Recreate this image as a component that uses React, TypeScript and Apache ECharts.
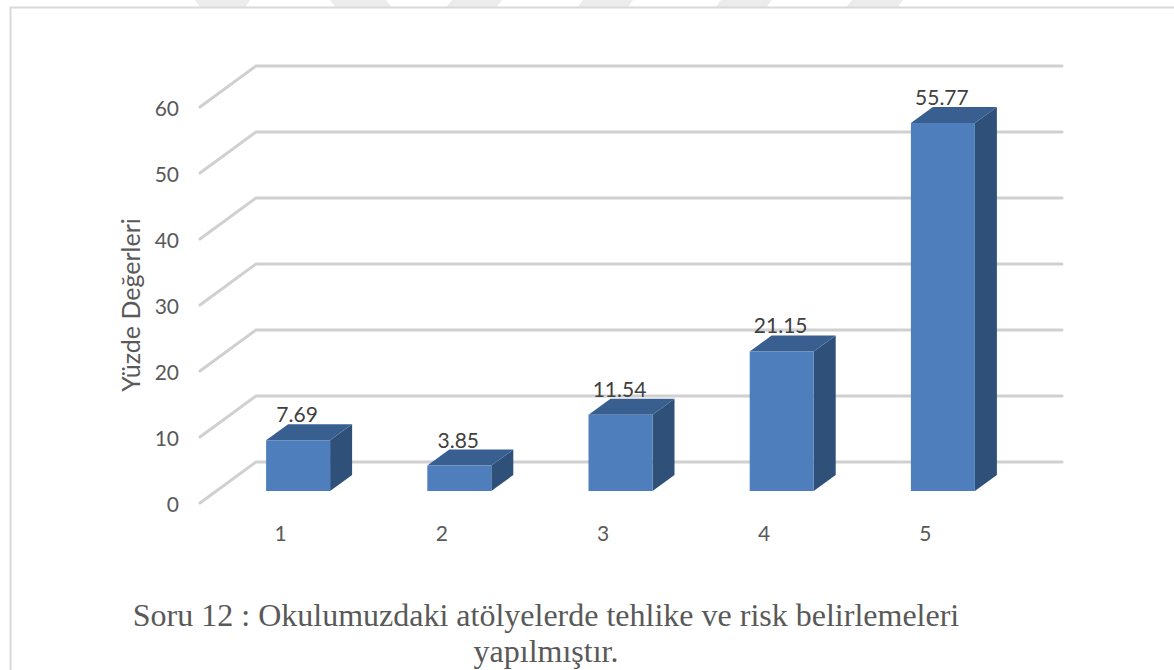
import React, { useEffect, useRef } from "react";
import * as echarts from "echarts";

const categories = ["1", "2", "3", "4", "5"];
const values = [7.69, 3.85, 11.54, 21.15, 55.77];
const gridTicks = [0, 10, 20, 30, 40, 50, 60];
const titleLines = ["Soru 12 : Okulumuzdaki atölyelerde tehlike ve risk belirlemeleri", "yapılmıştır."];
const yAxisName = "Yüzde Değerleri";

const SANS = "Lato";
const WALL_DX = 56;
const WALL_DY = 41;
const BAR_DX = 17.5;
const BAR_DY = 12;
const BAR_DEPTH_X = 22;
const BAR_DEPTH_Y = 16;
const BAR_W = 64;

const watermark = [
  [[195, 0], [250, 0], [245, 8], [201, 8]],
  [[330, 0], [386, 0], [392, 8], [336, 8]],
  [[452, 0], [502, 0], [496, 8], [446, 8]],
  [[583, 0], [633, 0], [627, 8], [577, 8]],
  [[721, 0], [772, 0], [766, 8], [715, 8]],
  [[852, 0], [903, 0], [897, 8], [846, 8]],
];

export default function App() {
  const ref = useRef<HTMLDivElement>(null);
  useEffect(() => {
    const chart = echarts.init(ref.current!, undefined, { renderer: "svg" });
    chart.setOption({
      animation: false,
      backgroundColor: "#ffffff",
      title: {
        text: titleLines.join("\n"),
        left: 546,
        top: 597,
        padding: 0,
        textAlign: "center",
        textStyle: {
          fontFamily: "'Liberation Serif'",
          fontSize: 32,
          fontWeight: "normal",
          lineHeight: 36,
          color: "#595959",
        },
      },
      grid: { left: 200, top: 107, width: 806, height: 396 },
      xAxis: {
        type: "category",
        data: categories,
        axisLine: { show: false },
        axisTick: { show: false },
        axisLabel: { color: "#595959", fontFamily: SANS, fontSize: 21, margin: 19 },
      },
      yAxis: {
        type: "value",
        min: 0,
        max: 60,
        interval: 10,
        name: yAxisName,
        nameLocation: "middle",
        nameRotate: 90,
        nameGap: 58,
        nameTextStyle: { color: "#595959", fontFamily: SANS, fontSize: 25 },
        axisLine: { show: false },
        axisTick: { show: false },
        splitLine: { show: false },
        axisLabel: { color: "#595959", fontFamily: SANS, fontSize: 21, margin: 21 },
      },
      graphic: watermark.map((points) => ({
        type: "polygon",
        silent: true,
        z: -1,
        shape: { points },
        style: { fill: "#ececec" },
      })).concat([
        {
          type: "polyline",
          silent: true,
          z: 0,
          shape: { points: [[10.5, 670], [10.5, 7.5], [1174, 7.5]] },
          style: { stroke: "#d9d9d9", lineWidth: 2, fill: "none" },
        } as any,
      ]),
      series: [
        {
          type: "custom",
          silent: true,
          z: 1,
          data: gridTicks.map((t) => [0, t]),
          encode: { x: 0, y: 1 },
          renderItem: (params: any, api: any) => {
            const cs = params.coordSys;
            const y = api.coord([0, api.value(1)])[1];
            const x0 = cs.x;
            const x1 = cs.x + WALL_DX;
            const x2 = cs.x + cs.width + WALL_DX;
            return {
              type: "polyline",
              shape: { points: [[x0, y], [x1, y - WALL_DY], [x2, y - WALL_DY]] },
              style: { stroke: "#d0d0d0", lineWidth: 3, fill: "none", lineCap: "round", lineJoin: "miter" },
            };
          },
        },
        {
          type: "custom",
          silent: true,
          z: 2,
          data: values.map((v, i) => [i, v]),
          encode: { x: 0, y: 1 },
          renderItem: (_params: any, api: any) => {
            const idx = api.value(0);
            const val = api.value(1);
            const [cx, top0] = api.coord([idx, val]);
            const base0 = api.coord([idx, 0])[1];
            const l = cx + BAR_DX - BAR_W / 2;
            const r = l + BAR_W;
            const t = top0 - BAR_DY;
            const b = base0 - BAR_DY;
            const dx = BAR_DEPTH_X;
            const dy = BAR_DEPTH_Y;
            return {
              type: "group",
              children: [
                {
                  type: "polygon",
                  shape: { points: [[r, t], [r + dx, t - dy], [r + dx, b - dy], [r, b]] },
                  style: { fill: "#2f5179" },
                },
                {
                  type: "polygon",
                  shape: { points: [[l, t], [l + dx, t - dy], [r + dx, t - dy], [r, t]] },
                  style: { fill: "#395f90" },
                },
                {
                  type: "rect",
                  shape: { x: l, y: t, width: BAR_W, height: b - t },
                  style: { fill: "#4e7fbc" },
                },
                {
                  type: "text",
                  style: {
                    text: String(val),
                    x: l + BAR_W / 2 - 1,
                    y: t - dy,
                    textAlign: "center",
                    textVerticalAlign: "bottom",
                    fontFamily: SANS,
                    fontSize: 21,
                    fill: "#404040",
                  },
                },
              ],
            };
          },
        },
      ],
    });
    return () => chart.dispose();
  }, []);
  return <div ref={ref} style={{ position: "absolute", left: 0, top: 0, width: 1174, height: 670 }} />;
}
